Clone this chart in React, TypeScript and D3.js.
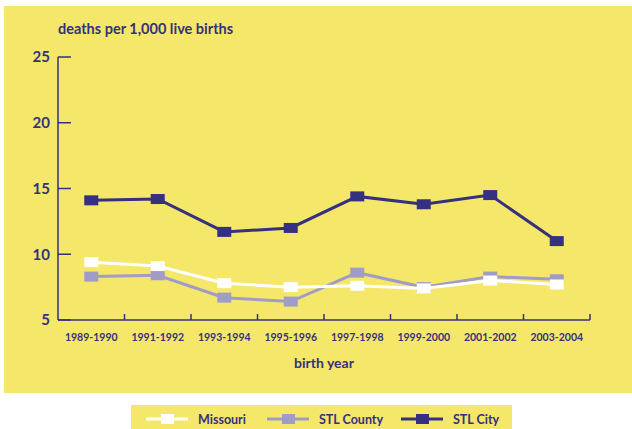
import * as d3 from "d3";
import {useEffect, useRef} from "react";

const years = ["1989-1990", "1991-1992", "1993-1994", "1995-1996", "1997-1998", "1999-2000", "2001-2002", "2003-2004"];
const missouri = [9.4, 9.1, 7.8, 7.5, 7.6, 7.4, 8.0, 7.7];
const stlCounty = [8.3, 8.4, 6.7, 6.4, 8.6, 7.5, 8.3, 8.1];
const stlCity = [14.1, 14.2, 11.7, 12.0, 14.4, 13.8, 14.5, 11.0];
const yTicks = [5, 10, 15, 20, 25];

const NAVY = "#35307f";
const LAVENDER = "#a09cc8";
const YELLOW = "#f5e76a";
const FONT = "Lato, 'Open Sans', sans-serif";

const series = [
    {name: "Missouri", values: missouri, color: "#ffffff"},
    {name: "STL County", values: stlCounty, color: LAVENDER},
    {name: "STL City", values: stlCity, color: NAVY},
];
// county sits under the Missouri line where they overlap
const drawOrder = [1, 0, 2];

export default function App() {
    const ref = useRef<SVGSVGElement>(null);

    useEffect(() => {
        const svg = d3.select(ref.current).html("");
        const x0 = 58, x1 = 590, yTop = 57, yBot = 320;

        svg.append("rect").attr("x", 4).attr("y", 6).attr("width", 628).attr("height", 387).attr("fill", YELLOW);

        const x = d3.scaleBand().domain(years).range([x0, x1]);
        const y = d3.scaleLinear().domain([5, 25]).range([yBot, yTop]);
        const cx = (d: string) => x(d)! + x.bandwidth() / 2;

        // axes
        const g = svg.append("g");
        g.append("line").attr("x1", x0).attr("x2", x0).attr("y1", yTop).attr("y2", yBot)
            .attr("stroke", NAVY).attr("stroke-width", 1.5);
        g.append("line").attr("x1", x0).attr("x2", x1).attr("y1", yBot).attr("y2", yBot)
            .attr("stroke", NAVY).attr("stroke-width", 1.5);
        g.selectAll(".yt").data(yTicks).join("line")
            .attr("x1", x0).attr("x2", x0 + 13).attr("y1", d => y(d)).attr("y2", d => y(d))
            .attr("stroke", NAVY).attr("stroke-width", 1.5);
        g.selectAll(".yl").data(yTicks).join("text")
            .attr("x", 50).attr("y", d => y(d)).attr("dy", "0.36em").attr("text-anchor", "end")
            .attr("font-family", FONT).attr("font-weight", "bold").attr("font-size", 15).attr("fill", NAVY)
            .text(d => d);
        g.selectAll(".xt").data(years).join("line")
            .attr("x1", d => x(d)! + x.bandwidth()).attr("x2", d => x(d)! + x.bandwidth())
            .attr("y1", yBot - 6).attr("y2", yBot)
            .attr("stroke", NAVY).attr("stroke-width", 1.5);
        g.selectAll(".xl").data(years).join("text")
            .attr("x", d => cx(d)).attr("y", 341).attr("text-anchor", "middle")
            .attr("font-family", FONT).attr("font-weight", "bold").attr("font-size", 10.5).attr("fill", NAVY)
            .text(d => d);

        svg.append("text").attr("x", 58).attr("y", 34)
            .attr("font-family", FONT).attr("font-weight", "bold").attr("font-size", 14.5).attr("fill", NAVY)
            .text("deaths per 1,000 live births");
        svg.append("text").attr("x", 324).attr("y", 368).attr("text-anchor", "middle")
            .attr("font-family", FONT).attr("font-weight", "bold").attr("font-size", 14).attr("fill", NAVY)
            .text("birth year");

        const line = d3.line<number>().x((d, i) => cx(years[i])).y(d => y(d));
        drawOrder.map(i => series[i]).forEach(s => {
            svg.append("path").attr("d", line(s.values)).attr("fill", "none")
                .attr("stroke", s.color).attr("stroke-width", 3);
            svg.append("g").selectAll("rect").data(s.values).join("rect")
                .attr("x", (d, i) => cx(years[i]) - 7).attr("y", d => y(d) - 5)
                .attr("width", 14).attr("height", 10).attr("fill", s.color);
        });

        // legend
        svg.append("rect").attr("x", 131).attr("y", 405).attr("width", 381).attr("height", 24).attr("fill", YELLOW);
        const lx = [146, 267, 401];
        series.forEach((s, i) => {
            const lg = svg.append("g").attr("transform", `translate(${lx[i]},419)`);
            lg.append("line").attr("x1", 0).attr("x2", 42).attr("stroke", s.color).attr("stroke-width", 3);
            lg.append("rect").attr("x", 15).attr("y", -5).attr("width", 13).attr("height", 10).attr("fill", s.color);
            lg.append("text").attr("x", 52).attr("dy", "0.36em")
                .attr("font-family", FONT).attr("font-weight", "bold").attr("font-size", 12.5).attr("fill", NAVY)
                .text(s.name);
        });
    }, []);

    return (
        <svg ref={ref} width={632} height={429}
             style={{position: "absolute", left: 0, top: 0, display: "block", background: "#fff"}}/>
    );
}
